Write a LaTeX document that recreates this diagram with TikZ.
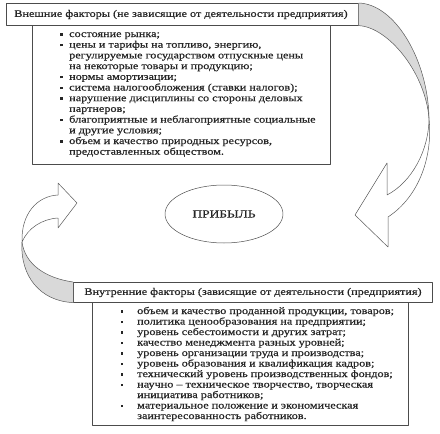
\documentclass[tikz,border=0pt]{standalone}
\usepackage{fontspec}
\setmainfont[FakeStretch=1.22,FakeBold=0.6]{Liberation Serif}
\usetikzlibrary{shapes.geometric}
\newcommand\bul{\llap{\raisebox{1.4pt}{\rule{2.6pt}{2.6pt}}\hspace{6.5pt}}}
\newcommand\bulb{\llap{\raisebox{1.4pt}{\rule{2.6pt}{2.6pt}}\hspace{14pt}}}
\begin{document}
\begin{tikzpicture}[x=1pt,y=-1pt,line join=round,
  font=\fontsize{10}{10.7}\selectfont,
  box/.style={draw=black!70,line width=0.6pt,fill=white,inner sep=0pt},
  arr/.style={draw=black!65,line width=0.5pt},
  shadeband/.style={fill=black!15},
  txt/.style={inner sep=0pt,anchor=base west,text=black!85}]
\useasboundingbox (0,0) rectangle (440,434);

% boxes
\node[box,anchor=north west,minimum width=298pt,minimum height=139pt] (toplist) at (32,25) {};
\node[box,anchor=north west,minimum width=352pt,minimum height=22pt] (tophead) at (6,3) {};
\node[txt,anchor=center] (tophtxt) at (181,14.5) {Внешние факторы (не зависящие от деятельности предприятия)};

\node[box,anchor=north west,minimum width=316pt,minimum height=123pt] (botlist) at (92,302) {};
\node[box,anchor=north west,minimum width=359pt,minimum height=20pt] (bothead) at (73,282) {};
\node[txt,anchor=center] (bothtxt) at (253,292.5) {Внутренние факторы (зависящие от деятельности (предприятия)};

% ellipse
\node[draw=black!70,line width=0.5pt,ellipse,minimum width=118pt,minimum height=58pt,inner sep=0pt,text=black!85,font=\fontsize{11}{12}\selectfont] (profit) at (224,214) {ПРИБЫЛЬ};

% top list
\foreach \t [count=\i] in {
 {\bul состояние рынка;},
 {\bul цены и тарифы на топливо, энергию,},
 {регулируемые государством отпускные цены},
 {на некоторые товары и продукцию;},
 {\bul нормы амортизации;},
 {\bul система налогообложения (ставки налогов);},
 {\bul нарушение дисциплины со стороны деловых},
 {партнеров;},
 {\bul благоприятные и неблагоприятные социальные},
 {и другие условия;},
 {\bul объем и качество природных ресурсов,},
 {предоставленных обществом.}}
 \node[txt] (tl\i) at ({69},{37+(\i-1)*10.7}) {\t};

% bottom list
\foreach \t [count=\i] in {
 {\bulb объем и качество проданной продукции, товаров;},
 {\bulb политика ценообразования на предприятии;},
 {\bulb уровень себестоимости и других затрат;},
 {\bulb качество менеджмента разных уровней;},
 {\bulb уровень организации труда и производства;},
 {\bulb уровень образования и квалификация кадров;},
 {\bulb технический уровень производственных фондов;},
 {\bulb научно – техническое творчество, творческая},
 {инициатива работников;},
 {\bulb материальное положение и экономическая},
 {заинтересованность работников.}}
 \node[txt] (bl\i) at ({137},{314+(\i-1)*10.5}) {\t};

% right arrow
\coordinate (rt) at (429,118);
\fill[shadeband] (tophead.north east) .. controls (395,4) and (428,60) .. (rt)
  .. controls (425,72) and (388,27) .. (tophead.south east) -- cycle;
\draw[arr] (tophead.north east) .. controls (395,4) and (428,60) .. (rt);
\draw[arr] (tophead.south east) .. controls (388,27) and (425,72) .. (rt);
\draw[arr] (rt) .. controls (429,150) and (412,182) .. (387,195) -- (387,163)
  -- (355,215) -- (388,247) -- (388,217) .. controls (420,196) and (433,155) .. (rt);

% left arrow
\coordinate (lt) at (22,242);
\fill[shadeband] (bothead.north west) .. controls (45,278) and (25,264) .. (lt)
  .. controls (20,276) and (40,301) .. (bothead.south west) -- cycle;
\draw[arr] (bothead.north west) .. controls (45,278) and (25,264) .. (lt);
\draw[arr] (bothead.south west) .. controls (40,301) and (20,276) .. (lt);
\draw[arr] (lt) .. controls (21,214) and (37,196) .. (58,195) -- (58,183)
  -- (77,203) -- (58,228) -- (58,218) .. controls (42,219) and (28,228) .. (lt);
\end{tikzpicture}
\end{document}
